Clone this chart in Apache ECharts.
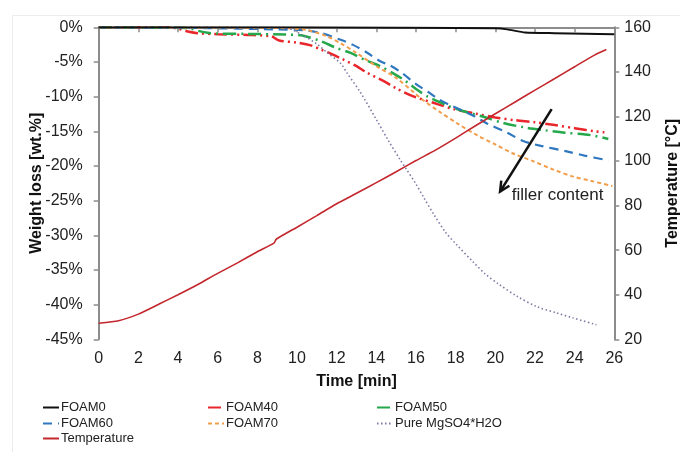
<!DOCTYPE html>
<html>
<head>
<meta charset="utf-8">
<script src="https://cdn.jsdelivr.net/npm/echarts@6/dist/echarts.min.js"></script>
<style>html,body{margin:0;padding:0;background:#fff}#c{width:680px;height:452px}</style>
</head>
<body>
<div id="c"></div>
<script>
// ---- data (time [min], value) ----
const xTicks = [0,2,4,6,8,10,12,14,16,18,20,22,24,26];
const leftTicks = [-45,-40,-35,-30,-25,-20,-15,-10,-5,0];
const rightTicks = [20,40,60,80,100,120,140,160];

const foam0 = [[0,0],[10,0],[16,-0.05],[20,-0.15],[20.6,-0.3],[21.5,-0.75],[23,-0.85],[24.5,-0.92],[26,-1.0]];
const foam40 = [[0,0],[3.5,0],[4,-0.2],[4.5,-0.6],[5,-0.85],[6,-1.0],[7.5,-1.1],[8.7,-1.3],[9.1,-1.9],[10,-2.2],[10.7,-2.6],[11.2,-3.2],[11.7,-3.8],[12.3,-4.6],[13,-5.6],[13.5,-6.5],[14.4,-7.8],[15,-8.8],[15.9,-10.0],[17,-11.0],[17.9,-11.8],[19,-12.45],[20,-13.0],[21,-13.4],[22,-13.7],[23,-14.1],[24,-14.55],[25,-15.0],[25.5,-15.15]];
const foam50 = [[0,0],[4.5,-0.1],[5,-0.5],[5.5,-0.8],[6,-0.9],[7.5,-0.95],[9.5,-1.05],[10.2,-1.15],[11.2,-2.0],[12,-3.0],[12.7,-3.7],[13.5,-4.8],[14.2,-5.6],[15,-6.9],[15.5,-7.8],[16,-8.9],[16.6,-10.0],[17.7,-11.4],[18.4,-12.1],[19.4,-12.9],[20.4,-13.8],[21.4,-14.4],[22.5,-14.85],[23.5,-15.2],[24.8,-15.55],[25.7,-16.1]];
const foam60 = [[0,0],[5,-0.1],[9,-0.3],[10.5,-0.45],[11.3,-0.9],[12.2,-1.8],[12.8,-2.5],[13.5,-3.6],[14.2,-4.9],[14.7,-5.5],[15.3,-6.6],[16,-8.2],[16.6,-9.3],[17.1,-10.3],[17.7,-11.2],[18.4,-12.1],[19,-12.9],[19.6,-13.9],[20.6,-15.2],[21.4,-16.4],[22.3,-17.1],[23.6,-17.9],[24.5,-18.5],[25.7,-19.2]];
const foam70 = [[0,0],[9,-0.1],[10.5,-0.4],[11.5,-1.3],[12.2,-2.3],[13,-3.7],[14,-5.6],[15,-7.3],[15.9,-9.4],[16.4,-10.6],[17.2,-12.2],[18.1,-13.9],[19.1,-15.6],[20,-16.9],[20.9,-18.2],[21.9,-19.3],[22.9,-20.5],[23.9,-21.5],[24.9,-22.2],[25.9,-22.9]];
const pureMgSO4 = [[0,0],[9,0],[9.5,-0.1],[10.2,-1.0],[11,-2.4],[11.5,-3.6],[12.2,-5.2],[12.5,-6.5],[13.2,-9.4],[14,-13.3],[14.6,-16.3],[15.2,-19.1],[15.5,-20.4],[16,-22.6],[16.4,-24.6],[16.9,-27.0],[17.5,-29.6],[18,-31.2],[18.9,-33.9],[19.5,-35.6],[20.1,-36.9],[21.1,-38.8],[22.1,-40.3],[23.1,-41.2],[23.9,-41.9],[25.1,-42.9]];
const temperature = [[0,27.2],[1,28.3],[2,31.3],[3,35.6],[4,40.0],[5,44.6],[6,49.6],[7,54.3],[8,59.3],[8.85,63.3],[8.95,64.9],[10,70.3],[11,75.5],[12,80.8],[13,85.5],[14,90.3],[15,95.2],[16,100.2],[17,105.0],[18,110.3],[19,115.8],[20,121.2],[21,126.5],[22,131.8],[23,137.0],[24,142.3],[25,147.5],[25.6,150.0]];

// annotation (data coords on the left axis)
const arrowFrom = [22.84,-11.8];
const arrowTo = [20.24,-23.7];
const annoTextAt = [20.83,-24.2];
const annoText = 'filler content';

const FONT = '"Liberation Sans", Arial, sans-serif';
const chart = echarts.init(document.getElementById('c'), null, {renderer:'canvas'});

function legendAt(name, left, top){
  return {data:[name], left:left, top:top, itemWidth:16, itemHeight:12, itemGap:0, padding:0,
    itemStyle:{opacity:0, borderWidth:0},
    textStyle:{fontFamily:FONT, fontSize:13, color:'#222', padding:[0,0,0,-3]}};
}

const option = {
  animation:false,
  backgroundColor:'#fff',
  textStyle:{fontFamily:FONT},
  grid:{left:98.7, right:65.7, top:27.3, bottom:112.7, containLabel:false, outerBoundsMode:'none'},
  legend:[
    legendAt('FOAM0',42,401), legendAt('FOAM40',207,401), legendAt('FOAM50',376,401),
    legendAt('FOAM60',42,417), legendAt('FOAM70',207,417), legendAt('Pure MgSO4*H2O',376,417),
    legendAt('Temperature',42,432)
  ],
  xAxis:{type:'value', min:xTicks[0], max:xTicks[xTicks.length-1], interval:2,
    name:'Time [min]', nameLocation:'middle', nameGap:34,
    nameTextStyle:{fontFamily:FONT, fontSize:16, fontWeight:'bold', color:'#111'},
    axisLine:{lineStyle:{color:'#8c8c8c', width:2}},
    axisTick:{show:true, length:5, lineStyle:{color:'#8c8c8c', width:1.5}},
    splitLine:{show:false},
    axisLabel:{fontFamily:FONT, fontSize:16, color:'#222', margin:11}},
  yAxis:[
    {type:'value', min:leftTicks[0], max:leftTicks[leftTicks.length-1], interval:5, position:'left',
      name:'Weight loss [wt.%]', nameLocation:'middle', nameGap:54, nameRotate:90, nameMoveOverlap:false,
      nameTextStyle:{fontFamily:FONT, fontSize:16, fontWeight:'bold', color:'#111'},
      axisLine:{show:true, lineStyle:{color:'#8c8c8c', width:2}},
      axisTick:{show:true, length:5, lineStyle:{color:'#8c8c8c', width:1.5}},
      splitLine:{show:false},
      axisLabel:{fontFamily:FONT, fontSize:16, color:'#222', margin:16, formatter:'{value}%'}},
    {type:'value', min:rightTicks[0], max:rightTicks[rightTicks.length-1], interval:20, position:'right',
      alignTicks:false,
      name:'Temperature [°C]', nameLocation:'middle', nameGap:50, nameRotate:90, nameMoveOverlap:false,
      nameTextStyle:{fontFamily:FONT, fontSize:16, fontWeight:'bold', color:'#111'},
      axisLine:{show:true, lineStyle:{color:'#8c8c8c', width:2}},
      axisTick:{show:true, length:5, lineStyle:{color:'#8c8c8c', width:1.5}},
      splitLine:{show:false},
      axisLabel:{fontFamily:FONT, fontSize:16, color:'#222', margin:10}}
  ],
  series:[
    {name:'FOAM0', type:'line', data:foam0, yAxisIndex:0, symbol:'none', smooth:0.2, z:5,
      lineStyle:{color:'#111', width:2}, itemStyle:{color:'#111'}},
    {name:'FOAM40', type:'line', data:foam40, yAxisIndex:0, symbol:'none', smooth:0.3,
      lineStyle:{color:'#e8262b', width:2.5, type:[13,4,2,4,2,4]}, itemStyle:{color:'#e8262b'}},
    {name:'FOAM50', type:'line', data:foam50, yAxisIndex:0, symbol:'none', smooth:0.3,
      lineStyle:{color:'#25a84c', width:2.5, type:[13,5,2,5]}, itemStyle:{color:'#25a84c'}},
    {name:'FOAM60', type:'line', data:foam60, yAxisIndex:0, symbol:'none', smooth:0.3,
      lineStyle:{color:'#2f78c0', width:2.2, type:[9,6]}, itemStyle:{color:'#2f78c0'}},
    {name:'FOAM70', type:'line', data:foam70, yAxisIndex:0, symbol:'none', smooth:0.3,
      lineStyle:{color:'#f29d4b', width:2, type:[4,3]}, itemStyle:{color:'#f29d4b'}},
    {name:'Pure MgSO4*H2O', type:'line', data:pureMgSO4, yAxisIndex:0, symbol:'none', smooth:0.3,
      lineStyle:{color:'#7b7ba6', width:1.6, type:[1.5,2.5]}, itemStyle:{color:'#7b7ba6'}},
    {name:'Temperature', type:'line', data:temperature, yAxisIndex:1, symbol:'none', smooth:0.2,
      lineStyle:{color:'#c3262c', width:1.6}, itemStyle:{color:'#c3262c'}}
  ]
};
chart.setOption(option);

const p1 = chart.convertToPixel({xAxisIndex:0, yAxisIndex:0}, arrowFrom);
const p2 = chart.convertToPixel({xAxisIndex:0, yAxisIndex:0}, arrowTo);
const pt = chart.convertToPixel({xAxisIndex:0, yAxisIndex:0}, annoTextAt);
const ang = Math.atan2(p2[1]-p1[1], p2[0]-p1[0]);
const hl = 11, ha = 0.45;
const h1 = [p2[0]-hl*Math.cos(ang-ha), p2[1]-hl*Math.sin(ang-ha)];
const h2 = [p2[0]-hl*Math.cos(ang+ha), p2[1]-hl*Math.sin(ang+ha)];
chart.setOption({graphic:[
  {type:'rect', left:10, top:13, silent:true, z:-10, shape:{x:0,y:0,width:700,height:460}, style:{fill:null, stroke:'#ececec', lineWidth:1}},
  {type:'line', z:20, shape:{x1:p1[0],y1:p1[1],x2:p2[0],y2:p2[1]}, style:{stroke:'#111', lineWidth:2.5}},
  {type:'polyline', z:20, shape:{points:[h1,p2,h2]}, style:{stroke:'#111', lineWidth:2.5, fill:null}},
  {type:'text', z:20, x:pt[0], y:pt[1], style:{text:annoText, font:'17px '+FONT, fill:'#222', textVerticalAlign:'middle', textAlign:'left'}}
]});
</script>
</body>
</html>
